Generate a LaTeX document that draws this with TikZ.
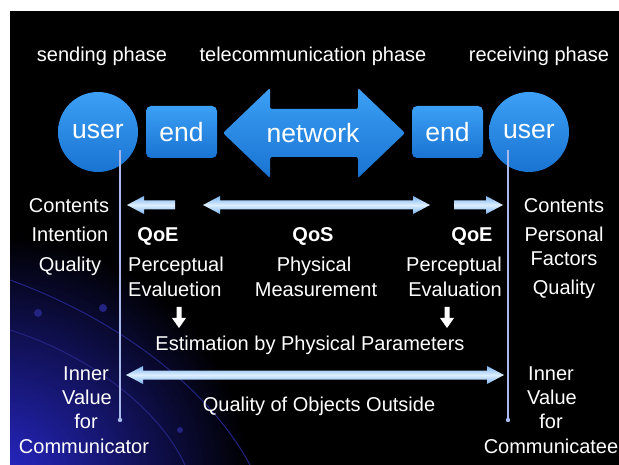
\documentclass[tikz,border=0pt]{standalone}
\usepackage{fontspec}
\setmainfont{Liberation Sans}
\definecolor{shapeblue}{RGB}{35,140,230}
\definecolor{shapebluelt}{RGB}{60,160,245}
\definecolor{shapebluedk}{RGB}{25,115,210}
\definecolor{arrlt}{RGB}{220,238,255}
\definecolor{arrmid}{RGB}{125,180,238}
\definecolor{vline}{RGB}{170,185,235}
\definecolor{glow}{RGB}{40,40,205}
\definecolor{arcblue}{RGB}{35,35,130}
\begin{document}
\begin{tikzpicture}[x=1pt,y=-1pt,
  txt/.style={text=white,font=\fontsize{20}{24}\selectfont,inner sep=0pt,anchor=base},
  btxt/.style={txt,font=\fontsize{20}{24}\selectfont\bfseries},
  bigtxt/.style={text=white,font=\fontsize{26.5}{30}\selectfont},
  usercirc/.style={circle,minimum size=80pt,inner sep=0pt,top color=shapebluelt,bottom color=shapebluedk,bigtxt},
  endbox/.style={rectangle,rounded corners=5pt,minimum width=71pt,minimum height=52pt,inner sep=0pt,top color=shapebluelt,bottom color=shapebluedk,bigtxt},
  fat/.style={top color=arrmid,bottom color=arrmid,middle color=arrlt},
  vln/.style={draw=vline,line width=1.8pt},
  dnarrow/.style={fill=white},
]
\useasboundingbox (0,0) rectangle (619,465);
\fill[white] (0,0) rectangle (619,465);
\fill[black] (10,11) rectangle (619,465);
\begin{scope}
  \clip (10,11) rectangle (619,465);
  \shade[inner color=glow,outer color=black] (0,485) circle (250);
  \draw[arcblue,line width=1pt] (10,280) .. controls (120,320) and (210,390) .. (250,465);
  \draw[arcblue,line width=1pt] (10,330) .. controls (90,355) and (160,410) .. (185,465);
  \fill[arcblue] (38,313) circle (4);
  \fill[arcblue] (103,308) circle (4);
  \fill[arcblue] (180,430) circle (3);
\end{scope}

% phase titles
\node[txt] (ph1) at (102,62) {sending phase};
\node[txt] (ph2) at (313,62) {telecommunication phase};
\node[txt] (ph3) at (539,62) {receiving phase};

% network arrow
\path[top color=shapebluelt,bottom color=shapebluedk,rounded corners=2pt]
  (223,133) -- (270,88) -- (270,109) -- (358,109) -- (358,88) -- (405,133)
  -- (358,178) -- (358,157) -- (270,157) -- (270,178) -- cycle;
\node[bigtxt] (net) at (313,133) {network};

% users and ends
\node[usercirc] (u1) at (98,132) {user};
\node[endbox] (e1) at (181.5,132) {end};
\node[endbox] (e2) at (447.5,132) {end};
\node[usercirc] (u2) at (529,132) {user};

% vertical lines
\coordinate (l1t) at (120,150);
\coordinate (l1b) at (120,420);
\coordinate (l2t) at (508,150);
\coordinate (l2b) at (508,420);
\draw[vln] (l1t) -- (l1b);
\draw[vln] (l2t) -- (l2b);
\fill[vline] (l1b) circle (2.2);
\fill[vline] (l2b) circle (2.2);

% fat arrows row
\path[fat] (127,205) -- (144,196) -- (144,200.5) -- (175,200.5) -- (175,209.5)
  -- (144,209.5) -- (144,214) -- cycle;
\path[fat] (203,205) -- (220,196) -- (220,200.5) -- (413,200.5) -- (413,196)
  -- (430,205) -- (413,214) -- (413,209.5) -- (220,209.5) -- (220,214) -- cycle;
\path[fat] (503,205) -- (486,196) -- (486,200.5) -- (454,200.5) -- (454,209.5)
  -- (486,209.5) -- (486,214) -- cycle;

% left column
\node[txt] (lc1) at (69,213) {Contents};
\node[txt] (lc2) at (70,242) {Intention};
\node[txt] (lc3) at (70,272) {Quality};

% QoE / QoS
\node[btxt] (qoe1) at (158,242) {QoE};
\node[txt,anchor=base west] (pe1) at (128,272) {Perceptual};
\node[txt,anchor=base west] (ev1) at (128,297) {Evaluetion};
\node[btxt] (qos) at (313,242) {QoS};
\node[txt] (phy) at (314,272) {Physical};
\node[txt] (mea) at (316,297) {Measurement};
\node[btxt] (qoe2) at (472,242) {QoE};
\node[txt,anchor=base east] (pe2) at (502,272) {Perceptual};
\node[txt,anchor=base east] (ev2) at (502,297) {Evaluation};

% right column
\node[txt] (rc1) at (564,213) {Contents};
\node[txt] (rc2) at (564,242) {Personal};
\node[txt] (rc3) at (564,266) {Factors};
\node[txt] (rc4) at (564,295) {Quality};

% down arrows
\path[dnarrow] (176.5,307) -- (181.5,307) -- (181.5,318) -- (186,318) -- (179,328)
  -- (172,318) -- (176.5,318) -- cycle;
\path[dnarrow] (444.5,307) -- (449.5,307) -- (449.5,318) -- (454,318) -- (447,328)
  -- (440,318) -- (444.5,318) -- cycle;
\node[txt] (est) at (310,350) {Estimation by Physical Parameters};

% bottom arrow
\path[fat] (126,375) -- (143,366) -- (143,370.5) -- (487,370.5) -- (487,366)
  -- (504,375) -- (487,384) -- (487,379.5) -- (143,379.5) -- (143,384) -- cycle;
\node[txt] (qoo) at (319,411) {Quality of Objects Outside};

% bottom left
\node[txt] (bl1) at (86,380) {Inner};
\node[txt] (bl2) at (87,404) {Value};
\node[txt] (bl3) at (86,428) {for};
\node[txt] (bl4) at (84,453) {Communicator};
% bottom right
\node[txt] (br1) at (551,380) {Inner};
\node[txt] (br2) at (552,404) {Value};
\node[txt] (br3) at (551,428) {for};
\node[txt] (br4) at (551,453) {Communicatee};
\end{tikzpicture}
\end{document}
